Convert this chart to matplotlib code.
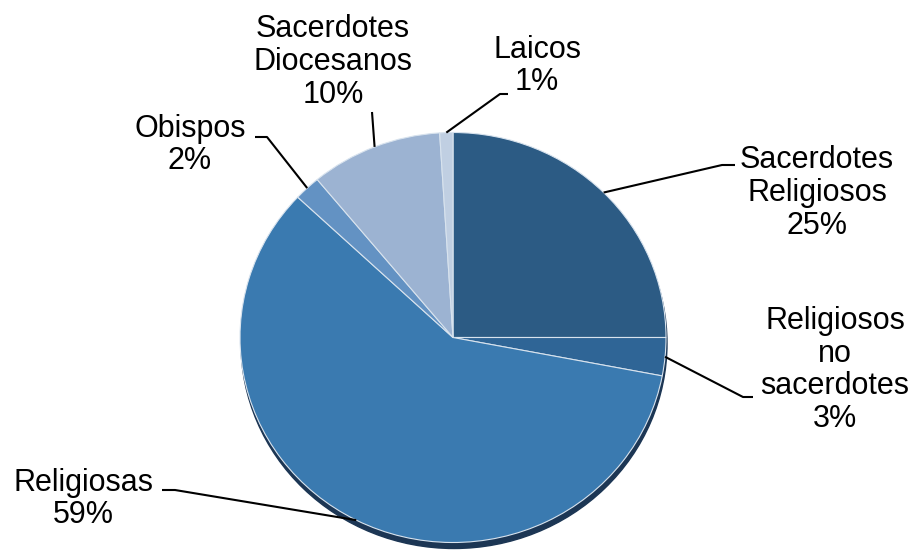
import numpy as np
import matplotlib
matplotlib.use('Agg')
import matplotlib.pyplot as plt
from matplotlib.patches import Ellipse

plt.rcParams['font.family'] = ['Liberation Sans', 'DejaVu Sans']

# datos
categorias = ['Sacerdotes\nReligiosos', 'Religiosos\nno\nsacerdotes', 'Religiosas',
              'Obispos', 'Sacerdotes\nDiocesanos', 'Laicos']
porcentajes = [25, 3, 59, 2, 10, 1]
colores = ['#2c5b84', '#2f6596', '#3a7ab0', '#6392c3', '#9cb3d2', '#c0cfe2']

# posiciones de etiquetas (px) y codo de la linea guia (px)
pos_texto = [(817, 193), (835, 370), (83, 499), (190, 145), (333, 62), (537, 66)]
codo = [[(722, 165), (735, 165)],
        [(743, 397), (753, 397)],
        [(175, 490), (162, 490)],
        [(267, 137), (255, 137)],
        [(372, 112)],
        [(500, 94), (508, 94)]]

W, H = 917, 552
s = 213 / 205.0          # pastel algo achatado
cx, cy, R = 453, 337.5 * s, 213

fig = plt.figure(figsize=(W / 100, H / 100), dpi=100)
ax = fig.add_axes([0, 0, 1, 1])

# sombra
sombra = Ellipse((cx + 1, cy + 6 * s), 2 * R, 2 * R, color='#1c3654', zorder=0)
ax.add_patch(sombra)

wedges, _ = ax.pie(porcentajes, colors=colores, startangle=-90, counterclock=True,
                   center=(cx, cy), radius=R,
                   wedgeprops=dict(edgecolor='#d8e3ee', linewidth=0.8))
for w in wedges:
    w.set_zorder(1)

total = sum(porcentajes)
acum = 0
for i, (cat, p) in enumerate(zip(categorias, porcentajes)):
    medio = (acum + p / 2) / total * 2 * np.pi
    acum += p
    bx = cx + R * np.sin(medio)
    by = cy - R * np.cos(medio)
    xs = [bx] + [q[0] for q in codo[i]]
    ys = [by] + [q[1] * s for q in codo[i]]
    ax.plot(xs, ys, color='black', lw=1.5, zorder=3, solid_capstyle='butt')
    tx, ty = pos_texto[i]
    ax.text(tx, ty * s, '%s\n%d%%' % (cat, p), ha='center', va='center',
            fontsize=22, linespacing=1.12, zorder=4)

ax.set_aspect('auto')
ax.set_xlim(0, W)
ax.set_ylim(H * s, 0)
ax.axis('off')

fig.savefig('out.png', dpi=100, facecolor='white')
